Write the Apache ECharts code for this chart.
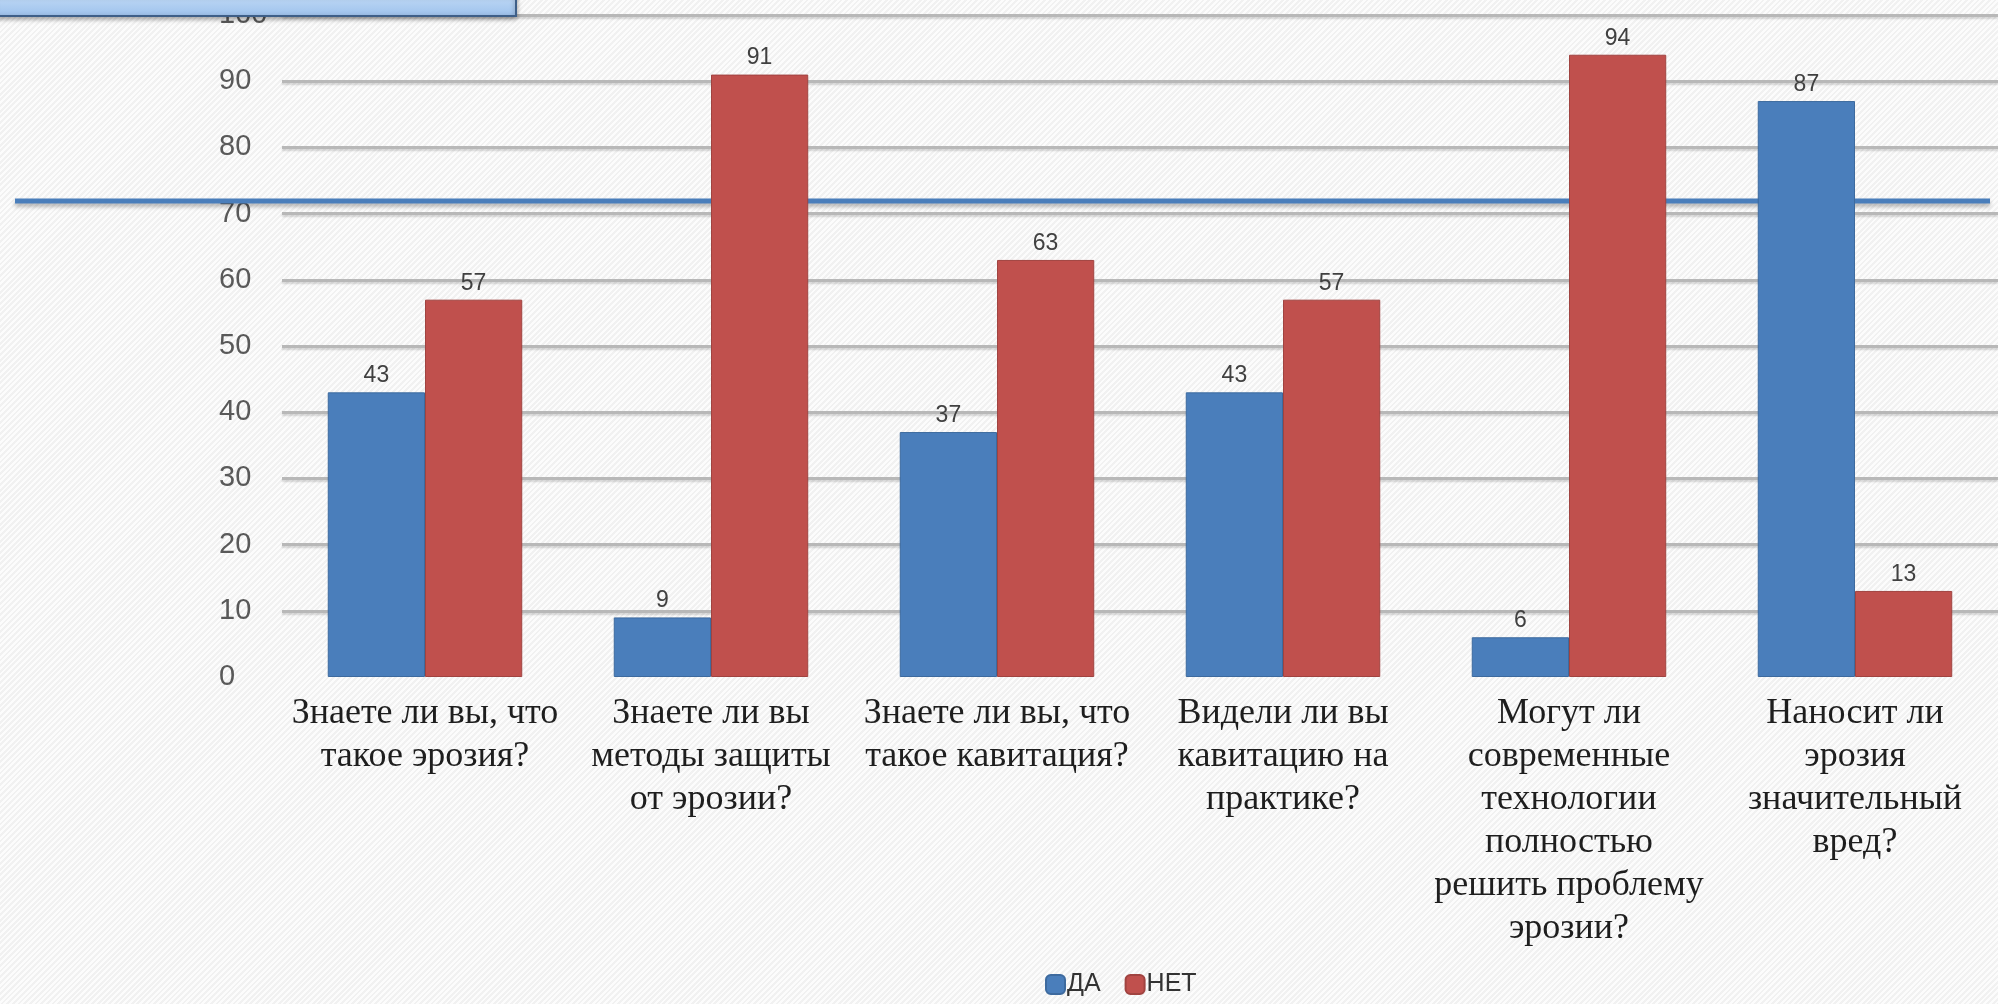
<!DOCTYPE html>
<html>
<head>
<meta charset="utf-8">
<script src="https://cdn.jsdelivr.net/npm/echarts@6/dist/echarts.min.js"></script>
<style>
html,body{margin:0;padding:0;width:1998px;height:1004px;overflow:hidden;
background:#f6f6f6;
background-image:repeating-linear-gradient(135deg,rgba(255,255,255,0.7) 0px,rgba(255,255,255,0.7) 2px,rgba(230,230,230,0.3) 2px,rgba(230,230,230,0.3) 4px);}
#c{width:1998px;height:1004px;}
</style>
</head>
<body>
<div id="c"></div>
<script>
const categories = [
  "Знаете ли вы, что\nтакое эрозия?",
  "Знаете ли вы\nметоды защиты\nот эрозии?",
  "Знаете ли вы, что\nтакое кавитация?",
  "Видели ли вы\nкавитацию на\nпрактике?",
  "Могут ли\nсовременные\nтехнологии\nполностью\nрешить проблему\nэрозии?",
  "Наносит ли\nэрозия\nзначительный\nвред?"
];
const seriesNames = ["ДА", "НЕТ"];
const yesValues = [43, 9, 37, 43, 6, 87];
const noValues = [57, 91, 63, 57, 94, 13];
const yTicks = [0, 10, 20, 30, 40, 50, 60, 70, 80, 90, 100];

const chart = echarts.init(document.getElementById('c'), null, {renderer: 'canvas'});
const labelStyle = {show: true, position: 'top', distance: 5, color: '#404040',
  fontFamily: 'Liberation Sans', fontSize: 23};
chart.setOption({
  animation: false,
  backgroundColor: 'transparent',
  grid: {left: 282, right: 0, top: 15, bottom: 327, containLabel: false},
  legend: {
    data: seriesNames, left: 1040, bottom: 2, itemWidth: 19, itemHeight: 19, itemGap: 24,
    icon: 'roundRect',
    textStyle: {fontFamily: 'Liberation Sans', fontSize: 25, color: '#333', padding: [0,0,0,-3]}
  },
  xAxis: {
    type: 'category', data: categories,
    axisLine: {show: false}, axisTick: {show: false},
    axisLabel: {interval: 0, margin: 15, color: '#1e1e1e', fontFamily: 'Liberation Serif',
      fontSize: 36, lineHeight: 43}
  },
  yAxis: {
    type: 'value', min: yTicks[0], max: yTicks[yTicks.length - 1], interval: 10,
    axisLine: {show: false}, axisTick: {show: false},
    axisLabel: {align: 'left', margin: 63, color: '#595959', fontFamily: 'Liberation Sans', fontSize: 29},
    splitLine: {show: true, showMinLine: false,
      lineStyle: {color: '#b8b8b8', width: 3, shadowColor: 'rgba(0,0,0,0.15)', shadowBlur: 2, shadowOffsetY: 2}}
  },
  series: [
    {name: seriesNames[0], type: 'bar', data: yesValues, barGap: '0%', barCategoryGap: '32%',
      itemStyle: {color: '#4a7ebb', borderColor: '#3d6a9e', borderWidth: 1},
      label: labelStyle},
    {name: seriesNames[1], type: 'bar', data: noValues, barGap: '0%', barCategoryGap: '32%',
      itemStyle: {color: '#c0504d', borderColor: '#a04340', borderWidth: 1},
      label: labelStyle}
  ],
  graphic: [
    {type: 'line', z: 1, shape: {x1: 15, y1: 201, x2: 1990, y2: 201},
      style: {stroke: '#4a7ebb', lineWidth: 5, shadowColor: 'rgba(0,0,0,0.3)', shadowBlur: 4, shadowOffsetY: 3}},
    {type: 'rect', z: 100, shape: {x: -6, y: -6, width: 522, height: 22},
      style: {
        fill: new echarts.graphic.LinearGradient(0, 0, 0, 1, [
          {offset: 0, color: '#c4dcf7'}, {offset: 1, color: '#9cc1ec'}]),
        stroke: '#3e5f88', lineWidth: 2,
        shadowColor: 'rgba(0,0,0,0.35)', shadowBlur: 5, shadowOffsetY: 2}}
  ]
});
</script>
</body>
</html>
